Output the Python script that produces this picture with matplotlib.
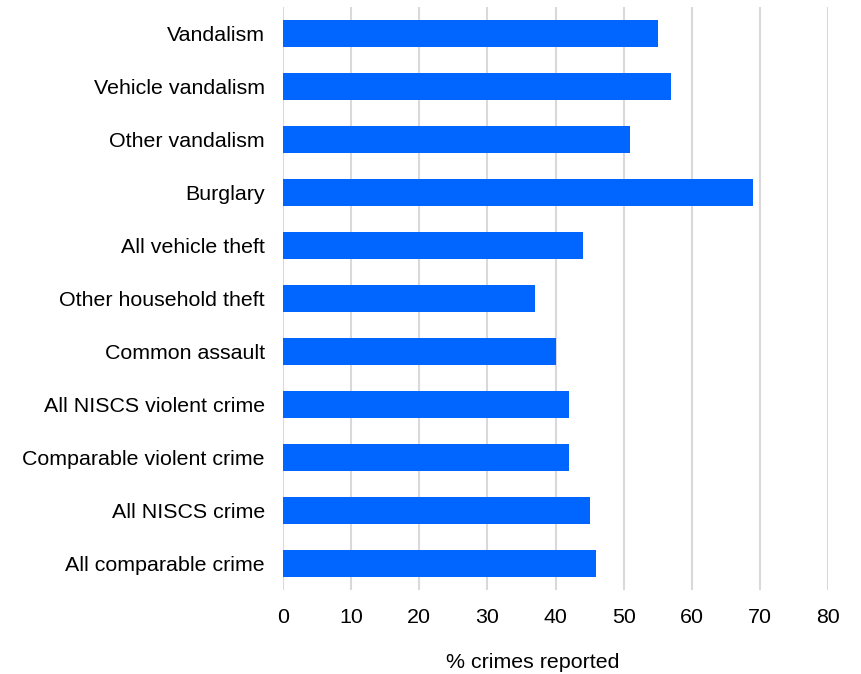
import matplotlib
matplotlib.use('Agg')
import matplotlib.pyplot as plt

categories = ['Vandalism', 'Vehicle vandalism', 'Other vandalism', 'Burglary',
              'All vehicle theft', 'Other household theft', 'Common assault',
              'All NISCS violent crime', 'Comparable violent crime',
              'All NISCS crime', 'All comparable crime']
reported = [55, 57, 51, 69, 44, 37, 40, 42, 42, 45, 46]
x_ticks = [0, 10, 20, 30, 40, 50, 60, 70, 80]

plt.rcParams['font.family'] = ['Liberation Sans', 'DejaVu Sans']

fig = plt.figure(figsize=(8.61, 6.74), dpi=100)
ax = fig.add_axes([0.3287, 0.1246, 0.633, 0.865])

pos = list(range(len(categories)))[::-1]
ax.barh(pos, reported, height=0.51, color='#0066ff', zorder=3)

ax.set_xlim(0, 80)
ax.set_ylim(-0.5, len(categories) - 0.5)
ax.set_xticks(x_ticks)
ax.set_yticks(pos)
ax.set_yticklabels(categories)
ax.grid(axis='x', color='#d9d9d9', linewidth=1.5, zorder=0)
ax.tick_params(axis='both', length=0, labelsize=15.4, colors='black')
ax.tick_params(axis='y', pad=13)
ax.tick_params(axis='x', pad=13)
for s in ax.spines.values():
    s.set_visible(False)
ax.set_xlabel('% crimes reported', fontsize=15.4, va='center')
ax.xaxis.set_label_coords(0.459, -0.1235)

fig.savefig('out.png', dpi=100)
